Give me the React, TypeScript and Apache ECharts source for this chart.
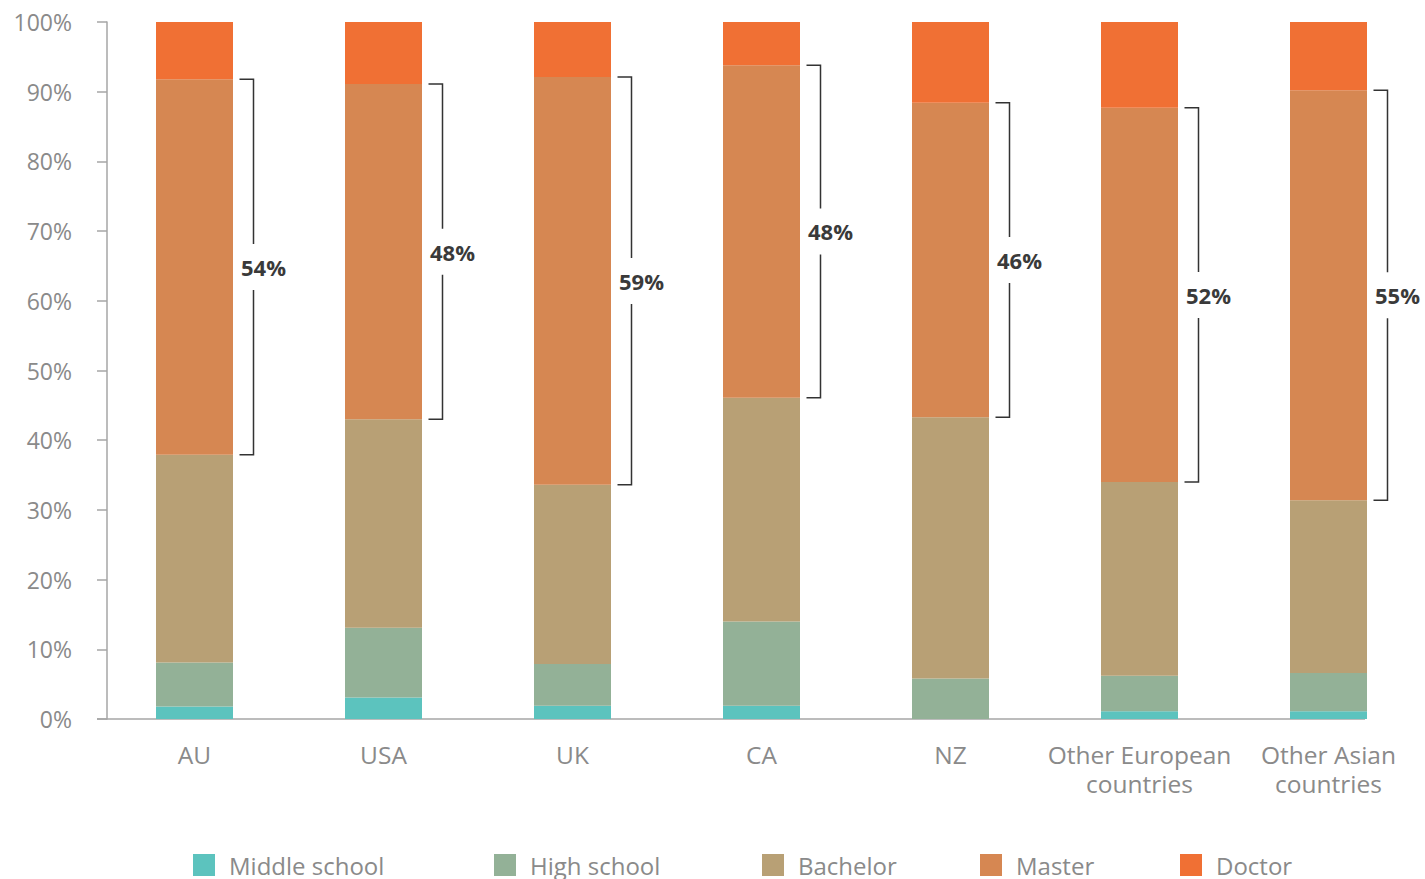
import React, { useEffect, useRef } from "react";
import * as echarts from "echarts";

const categories = ["AU", "USA", "UK", "CA", "NZ", "Other European\ncountries", "Other Asian\ncountries"];
const seriesNames = ["Middle school", "High school", "Bachelor", "Master", "Doctor"];
const middleSchool = [1.8, 3.1, 1.9, 1.9, 0, 1.1, 1.1];
const highSchool = [6.3, 10.0, 6.0, 12.1, 5.8, 5.1, 5.5];
const bachelor = [29.8, 29.9, 25.7, 32.1, 37.5, 27.8, 24.8];
const master = [53.9, 48.1, 58.5, 47.7, 45.1, 53.7, 58.8];
const doctor = [8.2, 8.9, 7.9, 6.2, 11.6, 12.3, 9.8];
const bracketLabels = ["54%", "48%", "59%", "48%", "46%", "52%", "55%"];
const yTicks = [0, 10, 20, 30, 40, 50, 60, 70, 80, 90, 100];

const colors = ["#5cc3be", "#93b197", "#b8a075", "#d68752", "#f07034"];
const FONT = "'Open Sans', 'Noto Sans', sans-serif";

export default function App() {
  const ref = useRef<HTMLDivElement>(null);
  useEffect(() => {
    document.body.style.margin = "0";
    const chart = echarts.init(ref.current!, null, { renderer: "svg" });
    const values = [middleSchool, highSchool, bachelor, master, doctor];
    const bracketData = categories.map((_, i) => {
      const bottom = middleSchool[i] + highSchool[i] + bachelor[i];
      const top = bottom + master[i];
      return [i, bottom, top, bracketLabels[i]];
    });
    const legendLefts = [193, 494, 762, 980, 1180];
    chart.setOption({
      animation: false,
      grid: { left: 100, right: 2, top: 22, bottom: 160 },
      xAxis: {
        type: "category",
        data: categories,
        axisLine: { show: false },
        axisTick: { show: false },
        axisLabel: {
          color: "#8a8a8a",
          fontFamily: FONT,
          fontSize: 24.5,
          lineHeight: 29,
          margin: 21,
          interval: 0,
        },
      },
      yAxis: {
        type: "value",
        min: yTicks[0],
        max: yTicks[yTicks.length - 1],
        interval: 10,
        offset: -7,
        axisLine: { show: true, lineStyle: { color: "#a6a6a6", width: 1.5 } },
        axisTick: { show: true, length: 10, lineStyle: { color: "#a6a6a6", width: 1.5 } },
        splitLine: { show: false },
        axisLabel: {
          color: "#8a8a8a",
          fontFamily: FONT,
          fontSize: 23,
          margin: 35,
          formatter: "{value}%",
        },
      },
      legend: seriesNames.map((n, k) => ({
        data: [n],
        left: legendLefts[k],
        top: 853,
        padding: 0,
        icon: "rect",
        itemWidth: 22,
        itemHeight: 22,
        itemGap: 14,
        selectedMode: false,
        textStyle: {
          color: "#8a8a8a",
          fontFamily: FONT,
          fontSize: 24,
          lineHeight: 24,
          padding: [0, 0, 0, 9],
        },
      })),
      graphic: [
        {
          type: "line",
          shape: { x1: 97, y1: 719, x2: 1365, y2: 719 },
          style: { stroke: "#a6a6a6", lineWidth: 1.5 },
          silent: true,
        },
      ],
      series: [
        ...seriesNames.map((n, k) => ({
          name: n,
          type: "bar",
          stack: "total",
          barWidth: 77,
          data: values[k],
          itemStyle: { color: colors[k] },
          z: 2,
        })),
        {
          type: "custom",
          name: "bracket",
          data: bracketData,
          encode: { x: 0, y: [1, 2] },
          z: 5,
          renderItem: (params: any, api: any) => {
            const i = api.value(0);
            const bot = api.value(1);
            const top = api.value(2);
            const pTop = api.coord([i, top]);
            const pBot = api.coord([i, bot]);
            const cx = pTop[0];
            const x0 = cx + 45;
            const x1 = cx + 59;
            const yT = pTop[1];
            const yB = pBot[1];
            const mid = (yT + yB) / 2;
            const label = bracketData[params.dataIndex][3] as string;
            const style = { stroke: "#333333", lineWidth: 1.5, fill: "none" };
            return {
              type: "group",
              children: [
                { type: "polyline", shape: { points: [[x0, yT], [x1, yT], [x1, mid - 23]] }, style },
                { type: "polyline", shape: { points: [[x1, mid + 23], [x1, yB], [x0, yB]] }, style },
                {
                  type: "text",
                  style: {
                    x: x1 + 10,
                    y: mid,
                    text: label,
                    align: "center",
                    verticalAlign: "middle",
                    fill: "#3a3a3a",
                    font: `bold 22px ${FONT}`,
                  },
                },
              ],
            };
          },
        },
      ],
    });
    return () => chart.dispose();
  }, []);
  return <div ref={ref} style={{ width: 1425, height: 879 }} />;
}
